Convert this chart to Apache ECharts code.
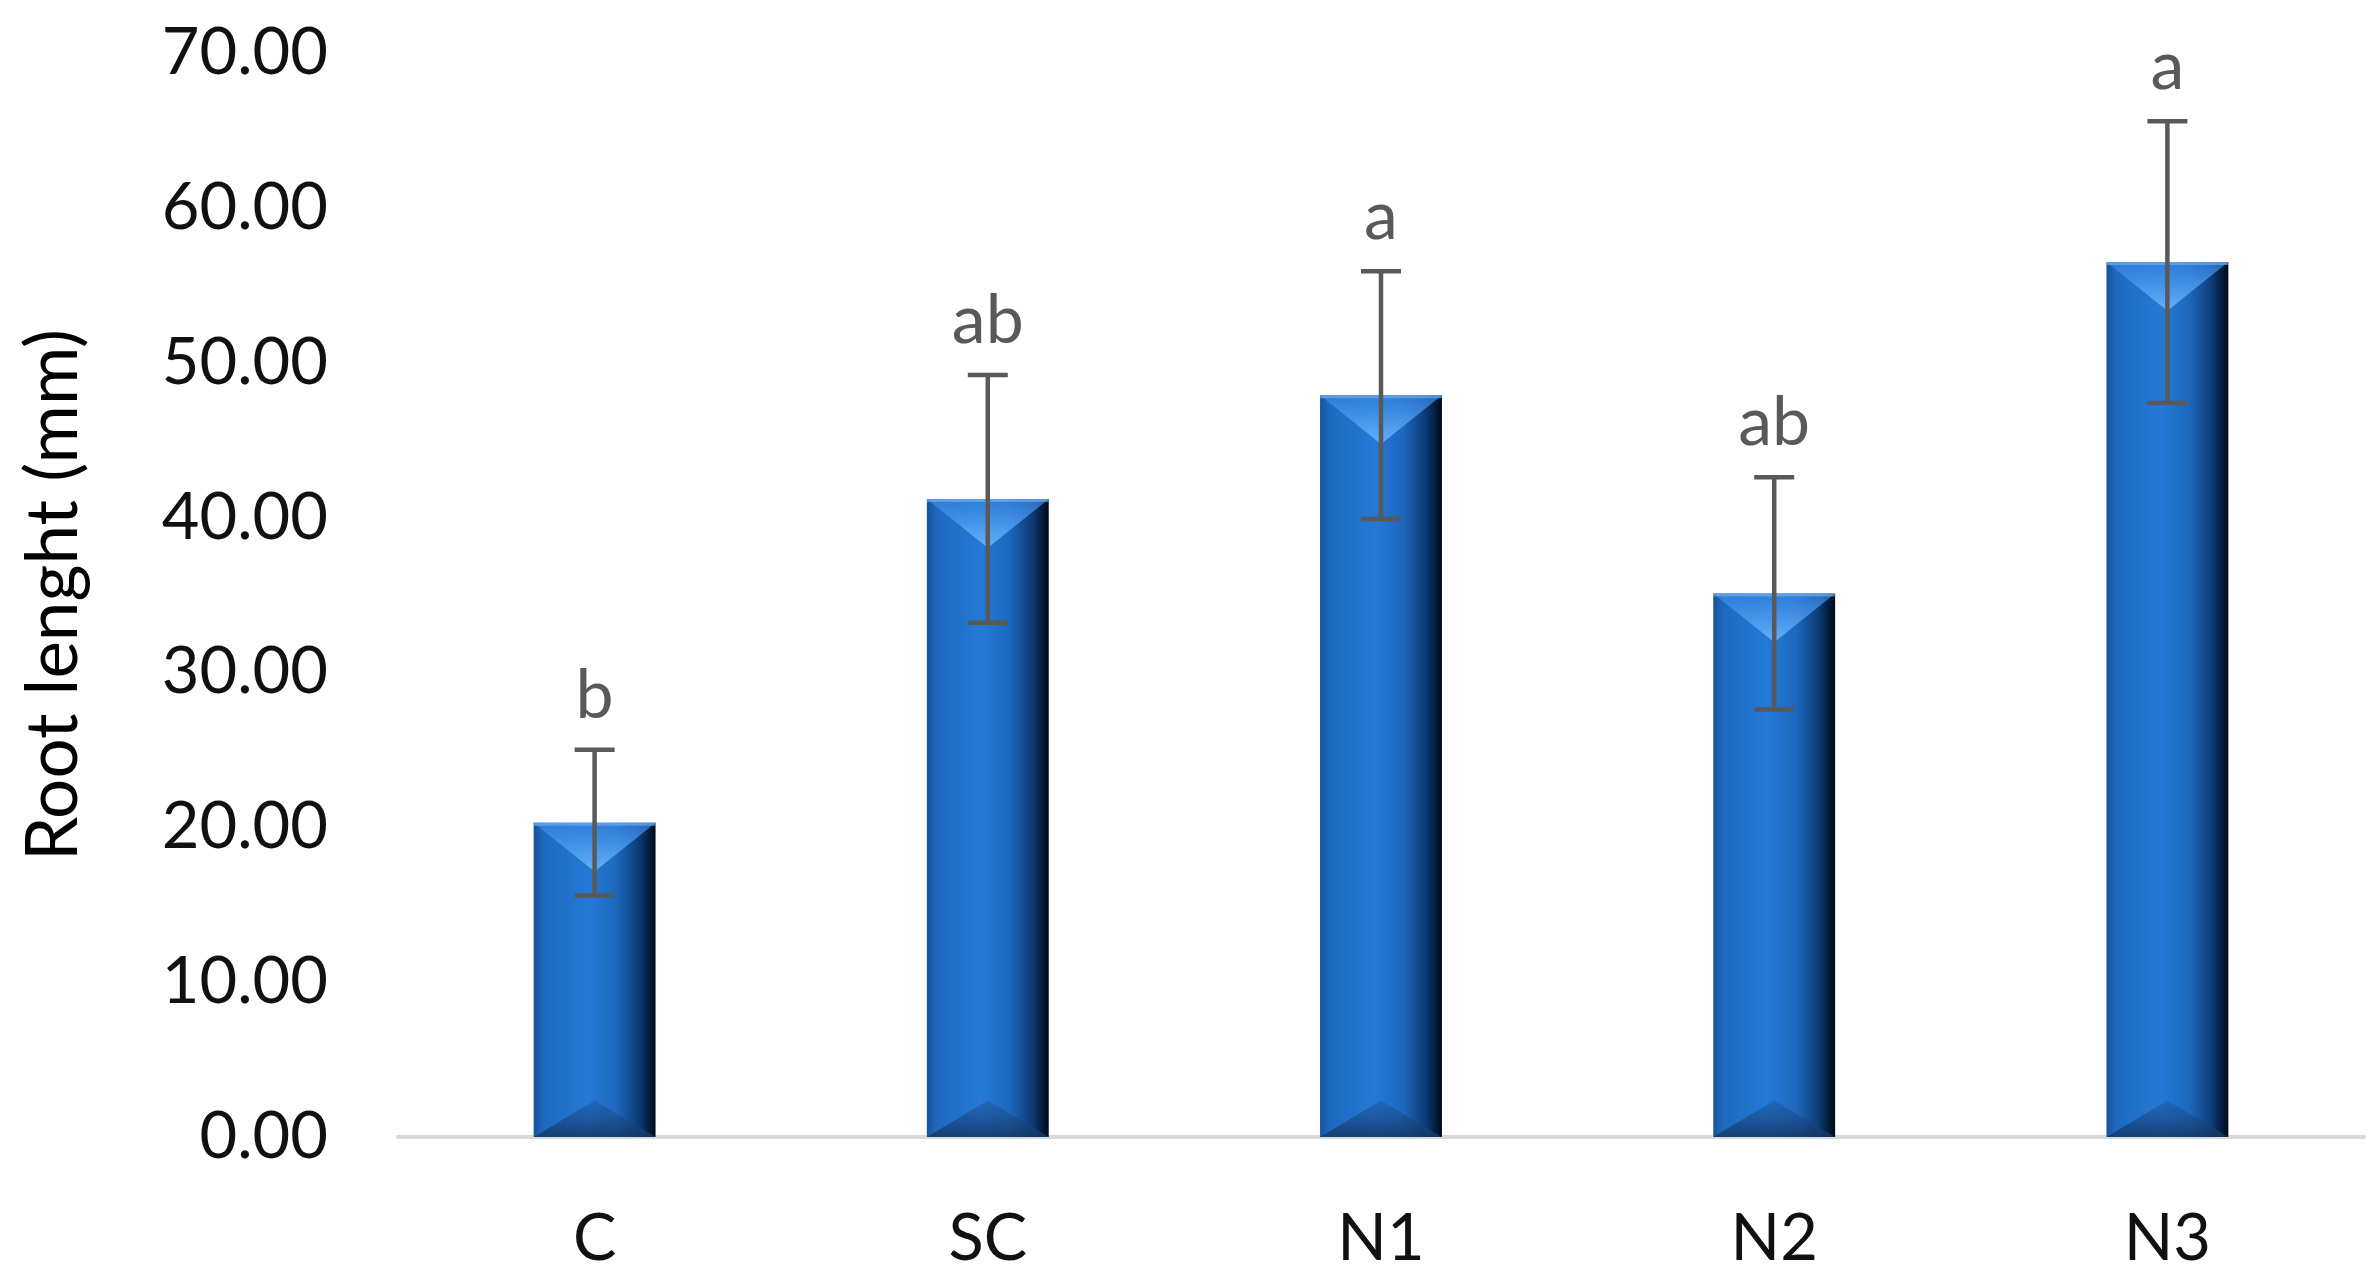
<!DOCTYPE html>
<html>
<head>
<meta charset="utf-8">
<script src="https://cdn.jsdelivr.net/npm/echarts@6/dist/echarts.min.js"></script>
<style>
html,body{margin:0;padding:0;background:#fff;}
#chart{width:2377px;height:1288px;}
</style>
</head>
<body>
<div id="chart"></div>
<script>
const categories = ['C', 'SC', 'N1', 'N2', 'N3'];
const means = [20.3, 41.2, 47.9, 35.1, 56.5];
const errors = [4.7, 8.0, 8.0, 7.5, 9.1];
const letters = ['b', 'ab', 'a', 'ab', 'a'];
const yMin = 0, yMax = 70, yStep = 10;

const FONT = 'Lato';
const chart = echarts.init(document.getElementById('chart'));

function barItem(params, api) {
  const idx = api.value(0);
  const val = api.value(1);
  const top = api.coord([idx, val]);
  const base = api.coord([idx, 0]);
  const w = api.size([1, 0])[0] * 0.31;
  const x0 = top[0] - w / 2, x1 = top[0] + w / 2;
  const y0 = top[1], y1 = base[1];
  const h = y1 - y0;
  const d = Math.min(w * 0.4, h / 2);
  const db = Math.min(w * 0.3, h / 2);
  return {
    type: 'group',
    children: [
      {
        type: 'rect',
        shape: { x: x0, y: y0, width: w, height: h },
        style: {
          fill: new echarts.graphic.LinearGradient(0, 0, 1, 0, [
            { offset: 0, color: '#17529a' },
            { offset: 0.08, color: '#1e69c0' },
            { offset: 0.45, color: '#2479d6' },
            { offset: 0.68, color: '#1d68bd' },
            { offset: 0.86, color: '#0d3c78' },
            { offset: 1, color: '#000a18' }
          ])
        }
      },
      {
        type: 'polygon',
        shape: { points: [[x0, y0], [x1, y0], [top[0], y0 + d]] },
        style: {
          fill: new echarts.graphic.LinearGradient(0, 0, 0, 1, [
            { offset: 0, color: 'rgba(50,130,225,0.7)' },
            { offset: 1, color: 'rgba(105,180,252,0.95)' }
          ])
        }
      },
      {
        type: 'polygon',
        shape: { points: [[x0, y1], [x1, y1], [top[0], y1 - db]] },
        style: {
          fill: new echarts.graphic.LinearGradient(0, 0, 0, 1, [
            { offset: 0, color: 'rgba(30,90,160,0.5)' },
            { offset: 1, color: 'rgba(20,55,100,0.85)' }
          ])
        }
      },
      {
        type: 'rect',
        shape: { x: x0, y: y0, width: w, height: 3 },
        style: { fill: 'rgba(120,180,240,0.6)' }
      }
    ]
  };
}

function errItem(params, api) {
  const idx = api.value(0);
  const m = api.value(1);
  const e = api.value(2);
  const hi = api.coord([idx, m + e]);
  const lo = api.coord([idx, m - e]);
  const cap = 20;
  const st = { stroke: '#595959', lineWidth: 4.5 };
  return {
    type: 'group',
    children: [
      { type: 'line', shape: { x1: hi[0], y1: hi[1], x2: lo[0], y2: lo[1] }, style: st },
      { type: 'line', shape: { x1: hi[0] - cap, y1: hi[1], x2: hi[0] + cap, y2: hi[1] }, style: st },
      { type: 'line', shape: { x1: lo[0] - cap, y1: lo[1], x2: lo[0] + cap, y2: lo[1] }, style: st },
      {
        type: 'text',
        x: hi[0], y: hi[1] - 20,
        style: {
          text: letters[params.dataIndex],
          fill: '#595959',
          font: '68px ' + FONT,
          textAlign: 'center',
          textVerticalAlign: 'bottom'
        }
      }
    ]
  };
}

chart.setOption({
  animation: false,
  grid: { left: 398, right: 13, top: 53, bottom: 151, containLabel: false },
  xAxis: {
    type: 'category',
    data: categories,
    axisLine: { lineStyle: { color: '#d9d9d9', width: 4 } },
    axisTick: { show: false },
    axisLabel: { color: '#111', fontFamily: FONT, fontSize: 65, margin: 70 }
  },
  yAxis: {
    type: 'value',
    min: yMin, max: yMax, interval: yStep,
    name: 'Root lenght (mm)',
    nameLocation: 'middle',
    nameGap: 308,
    nameTextStyle: { color: '#000', fontFamily: FONT, fontSize: 71 },
    axisLine: { show: false },
    axisTick: { show: false },
    splitLine: { show: false },
    axisLabel: { color: '#111', fontFamily: FONT, fontSize: 65, margin: 70,
      formatter: v => v.toFixed(2) }
  },
  series: [
    {
      type: 'custom',
      renderItem: barItem,
      data: categories.map((c, i) => [i, means[i]]),
      encode: { x: 0, y: 1 },
      z: 2
    },
    {
      type: 'custom',
      renderItem: errItem,
      data: categories.map((c, i) => [i, means[i], errors[i]]),
      encode: { x: 0, y: 1 },
      z: 3
    }
  ]
});
</script>
</body>
</html>
